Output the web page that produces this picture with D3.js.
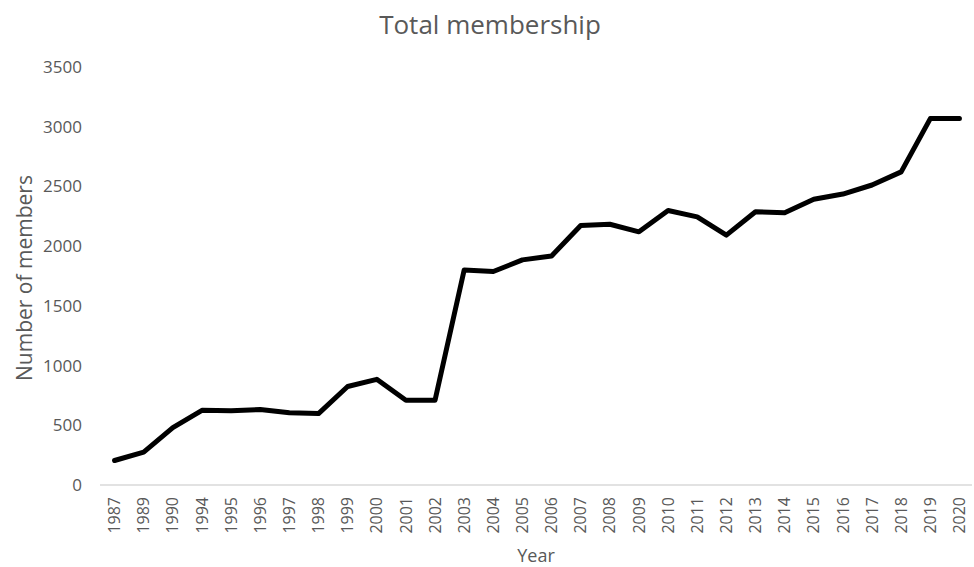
<!DOCTYPE html>
<html>
<head>
<meta charset="utf-8">
<script src="https://cdn.jsdelivr.net/npm/d3@7"></script>
<style>
html,body{margin:0;padding:0;background:#fff;}
svg{display:block;font-family:"Open Sans",sans-serif;}
</style>
</head>
<body>
<svg id="chart" width="974" height="567"></svg>
<script>
const years = ["1987","1989","1990","1994","1995","1996","1997","1998","1999","2000","2001","2002","2003","2004","2005","2006","2007","2008","2009","2010","2011","2012","2013","2014","2015","2016","2017","2018","2019","2020"];
const members = [205,275,480,625,622,632,605,598,825,885,710,710,1800,1788,1885,1918,2172,2183,2120,2298,2245,2092,2288,2280,2392,2436,2512,2622,3068,3068];
const yTicks = [0,500,1000,1500,2000,2500,3000,3500];

(function () {
const svg = d3.select("#chart");
const mLeft = 100, mRight = 974, mTop = 67, mBottom = 485;

const x = d3.scaleBand().domain(years).range([mLeft, mRight]);
const y = d3.scaleLinear().domain([0, 3500]).range([mBottom, mTop]);

const textColor = "#595959";

// y axis labels
const yAxis = d3.axisLeft(y).tickValues(yTicks).tickFormat(d3.format("d")).tickSize(0).tickPadding(18);
const yg = svg.append("g").attr("transform", `translate(${mLeft},0)`).call(yAxis);
yg.select(".domain").remove();
yg.selectAll("text").attr("font-size", 17).attr("fill", textColor).attr("font-family", "'Open Sans',sans-serif");

// x axis
const xAxis = d3.axisBottom(x).tickSize(0).tickPadding(0);
const xg = svg.append("g").attr("transform", `translate(0,${mBottom})`).call(xAxis);
xg.select(".domain").attr("stroke", "#d9d9d9").attr("stroke-width", 1.5).attr("d", `M${mLeft},0H${mRight - 2}`);
xg.selectAll("text")
  .attr("font-size", 16).attr("fill", textColor).attr("font-family", "'Open Sans',sans-serif")
  .attr("transform", "rotate(-90)")
  .attr("text-anchor", "end")
  .attr("x", -12).attr("y", 0).attr("dy", "0.35em");

// line
const line = d3.line().x((d, i) => x(years[i]) + x.bandwidth() / 2).y(d => y(d));
svg.append("path").datum(members)
  .attr("d", line)
  .attr("fill", "none")
  .attr("stroke", "#000")
  .attr("stroke-width", 5)
  .attr("stroke-linejoin", "round")
  .attr("stroke-linecap", "round");

// title
svg.append("text").attr("x", 490).attr("y", 34).attr("text-anchor", "middle")
  .attr("font-size", 26).attr("fill", textColor).text("Total membership");

// axis titles
svg.append("text").attr("transform", "translate(32,278) rotate(-90)").attr("text-anchor", "middle")
  .attr("font-size", 21).attr("fill", textColor).text("Number of members");
svg.append("text").attr("x", 536).attr("y", 562).attr("text-anchor", "middle")
  .attr("font-size", 18).attr("fill", textColor).text("Year");
})();
</script>
</body>
</html>
